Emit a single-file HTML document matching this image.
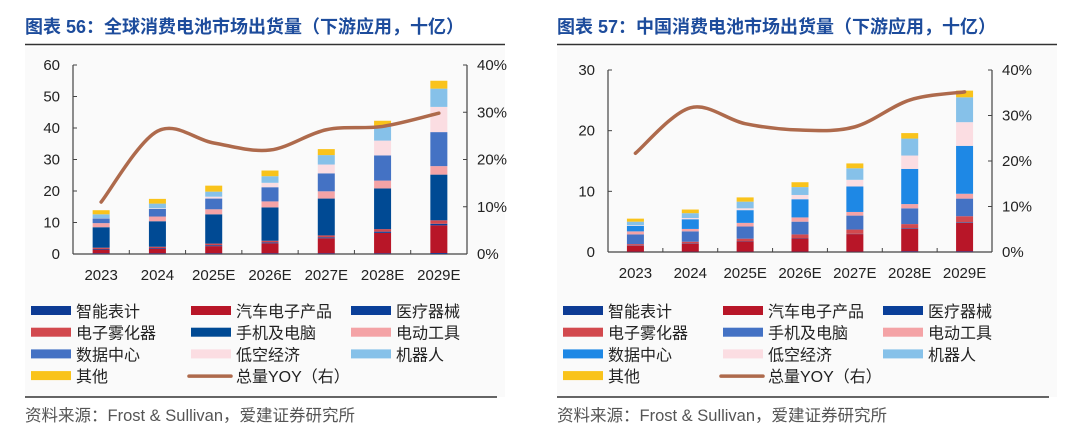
<!DOCTYPE html>
<html><head><meta charset="utf-8"><style>
body{margin:0;width:1080px;height:446px;background:#fff;overflow:hidden;font-family:"Liberation Sans","Noto Sans CJK SC",sans-serif;}
svg{position:absolute;left:0;top:0}
</style></head><body>
<svg id="svg" width="1080" height="446" xmlns="http://www.w3.org/2000/svg"></svg>
<script>
const NS="http://www.w3.org/2000/svg";
const svg=document.getElementById('svg');
const categories=["2023","2024","2025E","2026E","2027E","2028E","2029E"];
const seriesNames=["智能表计","汽车电子产品","医疗器械","电子雾化器","手机及电脑","电动工具","数据中心","低空经济","机器人","其他"];
const leftSmart=[0.2,0.2,0.2,0.2,0.2,0.2,0.3];
const leftAuto=[1.2,1.5,2.3,3.2,4.8,6.5,8.8];
const leftMed=[0.2,0.2,0.3,0.3,0.3,0.4,0.5];
const leftVape=[0.4,0.4,0.5,0.5,0.6,0.8,1.1];
const leftPhone=[6.5,8.1,9.3,10.6,11.7,12.9,14.5];
const leftTool=[1.3,1.5,1.6,1.9,2.3,2.5,2.7];
const leftDC=[1.5,2.4,3.4,4.5,5.7,8.0,10.8];
const leftLowAlt=[0.1,0.2,0.6,1.4,2.8,4.7,8.0];
const leftRobot=[1.2,1.5,1.6,2.1,3.0,4.7,5.8];
const leftOther=[1.3,1.5,1.9,1.8,1.9,1.6,2.5];
const leftYoy=[11,26,23.5,22,26.3,27,29.8];
const rightSmart=[0.05,0.05,0.05,0.05,0.05,0.1,0.1];
const rightAuto=[1.0,1.3,1.7,2.2,2.9,3.7,4.7];
const rightMed=[0.05,0.05,0.05,0.05,0.05,0.1,0.1];
const rightVape=[0.2,0.3,0.4,0.6,0.7,0.7,1.0];
const rightPhone=[1.6,1.7,2.0,2.1,2.3,2.6,2.9];
const rightTool=[0.5,0.4,0.6,0.7,0.6,0.7,0.8];
const rightDC=[0.9,1.6,2.1,3.0,4.2,5.8,7.9];
const rightLowAlt=[0.1,0.2,0.3,0.7,1.1,2.2,3.9];
const rightRobot=[0.6,0.8,1.1,1.3,1.9,2.8,4.1];
const rightOther=[0.5,0.6,0.7,0.8,0.8,0.9,1.1];
const rightYoy=[21.7,31.7,28.2,26.8,27.5,33.4,35.2];
const leftTicks=[0,10,20,30,40,50,60];
const rightTicks=[0,10,20,30];
const pctTicks=[0,10,20,30,40];

function el(tag,attrs,parent){const e=document.createElementNS(NS,tag);for(const k in attrs)e.setAttribute(k,attrs[k]);(parent||svg).appendChild(e);return e;}
function txt(s,attrs,parent){const e=el('text',attrs,parent);e.textContent=s;return e;}

function drawChart(o){
  const g=el('g',{});
  
  
  el('rect',{x:o.px,y:47,width:o.pw,height:350,fill:'#fafafa'},g);
  const t=txt(o.title,{x:o.px,y:33,'font-size':18,'font-weight':'bold',fill:'#1d4c9c'},g);
  
  
  el('line',{x1:o.px,x2:o.px+o.pw,y1:44.5,y2:44.5,stroke:'#333','stroke-width':1.5},g);
  const y=v=>o.y0-(v/o.ymax)*(o.y0-o.ytop);
  const yr=v=>o.y0-(v/40)*(o.y0-o.ytop);
  const bw=(o.x1-o.x0)/categories.length;
  const xc=i=>o.x0+bw*(i+0.5);
  // axes
  el('line',{x1:o.x0,x2:o.x0,y1:o.ytop,y2:o.y0,stroke:'#444','stroke-width':1.2},g);
  el('line',{x1:o.x1,x2:o.x1,y1:o.ytop,y2:o.y0,stroke:'#444','stroke-width':1.2},g);
  el('line',{x1:o.x0,x2:o.x1,y1:o.y0,y2:o.y0,stroke:'#444','stroke-width':1.2},g);
  o.ticks.forEach(v=>{
    el('line',{x1:o.x0,x2:o.x0+4,y1:y(v),y2:y(v),stroke:'#444'},g);
    const l=txt(String(v),{x:o.x0-13,y:y(v)+5,'font-size':15,fill:'#222','text-anchor':'end'},g);
    
    
  });
  pctTicks.forEach(v=>{
    el('line',{x1:o.x1-4,x2:o.x1,y1:yr(v),y2:yr(v),stroke:'#444'},g);
    const l=txt(v+'%',{x:o.x1+10,y:yr(v)+5,'font-size':15,fill:'#222'},g);
    
    
  });
  for(let i=1;i<categories.length;i++)el('line',{x1:o.x0+bw*i,x2:o.x0+bw*i,y1:o.y0-4,y2:o.y0,stroke:'#444'},g);
  categories.forEach((c,i)=>{
    const l=txt(c,{x:xc(i),y:o.y0+26,'font-size':15,fill:'#222','text-anchor':'middle'},g);
    
    
  });
  // bars
  categories.forEach((c,i)=>{
    let acc=0;
    o.series.forEach((s,k)=>{
      const v=s[i];const r=el('rect',{x:xc(i)-o.barW/2,y:y(acc+v),width:o.barW,height:Math.max(0,y(acc)-y(acc+v)),fill:o.colors[k]},g);
      
      
      acc+=v;
    });
  });
  // yoy line (catmull-rom)
  const pts=o.yoy.map((v,i)=>[xc(i),yr(v)]);
  let d='M'+pts[0][0]+','+pts[0][1];
  for(let i=0;i<pts.length-1;i++){
    const p0=pts[i-1]||pts[i],p1=pts[i],p2=pts[i+1],p3=pts[i+2]||p2;
    const c1=[p1[0]+(p2[0]-p0[0])/6,p1[1]+(p2[1]-p0[1])/6];
    const c2=[p2[0]-(p3[0]-p1[0])/6,p2[1]-(p3[1]-p1[1])/6];
    d+=' C'+c1+' '+c2+' '+p2;
  }
  const ln=el('path',{d:d,fill:'none',stroke:'#ae6a4c','stroke-width':3.5,'stroke-linecap':'round'},g);
  
  
  // legend
  const labels=seriesNames.concat(['总量YOY（右）']);
  const cols=[o.px+6,o.px+166,o.px+326];
  labels.forEach((s,k)=>{
    const r=Math.floor(k/3),c=k%3;
    const lx=cols[c],ly=310+r*21.7;
    if(k<10){el('rect',{x:lx,y:ly-4,width:40,height:9,fill:o.colors[k]},g);}
    else{el('line',{x1:lx-2,x2:lx+40,y1:ly+1,y2:ly+1,stroke:'#ae6a4c','stroke-width':3.5,'stroke-linecap':'round'},g);}
    const l=txt(s,{x:lx+45,y:ly+7,'font-size':16,fill:'#222'},g);
    
    
  });
  el('line',{x1:o.px,x2:o.px+o.pw-8,y1:397,y2:397,stroke:'#333','stroke-width':1.5},g);
  const src=txt('资料来源：Frost & Sullivan，爱建证券研究所',{x:o.px,y:421,'font-size':16.5,fill:'#555'},g);
  
  
}
const baseColors=['#0d3b94','#b81628','#0a3f99','#d2494e','#004a94','#f4a3a6','#4472c4','#fbdde2','#86c1e9','#f9c31b'];
drawChart({name:'global-chart',px:25,pw:480,title:'图表 56：全球消费电池市场出货量（下游应用，十亿）',
  x0:73,x1:467,y0:254,ytop:65,ymax:60,ticks:leftTicks,barW:17,yoy:leftYoy,colors:baseColors,
  series:[leftSmart,leftAuto,leftMed,leftVape,leftPhone,leftTool,leftDC,leftLowAlt,leftRobot,leftOther]});
const rc=baseColors.slice();rc[4]='#4472c4';rc[6]='#1e88e5';
drawChart({name:'china-chart',px:557,pw:500,title:'图表 57：中国消费电池市场出货量（下游应用，十亿）',
  x0:608,x1:992,y0:252,ytop:70,ymax:30,ticks:rightTicks,barW:17,yoy:rightYoy,colors:rc,
  series:[rightSmart,rightAuto,rightMed,rightVape,rightPhone,rightTool,rightDC,rightLowAlt,rightRobot,rightOther]});
</script>
</body></html>
